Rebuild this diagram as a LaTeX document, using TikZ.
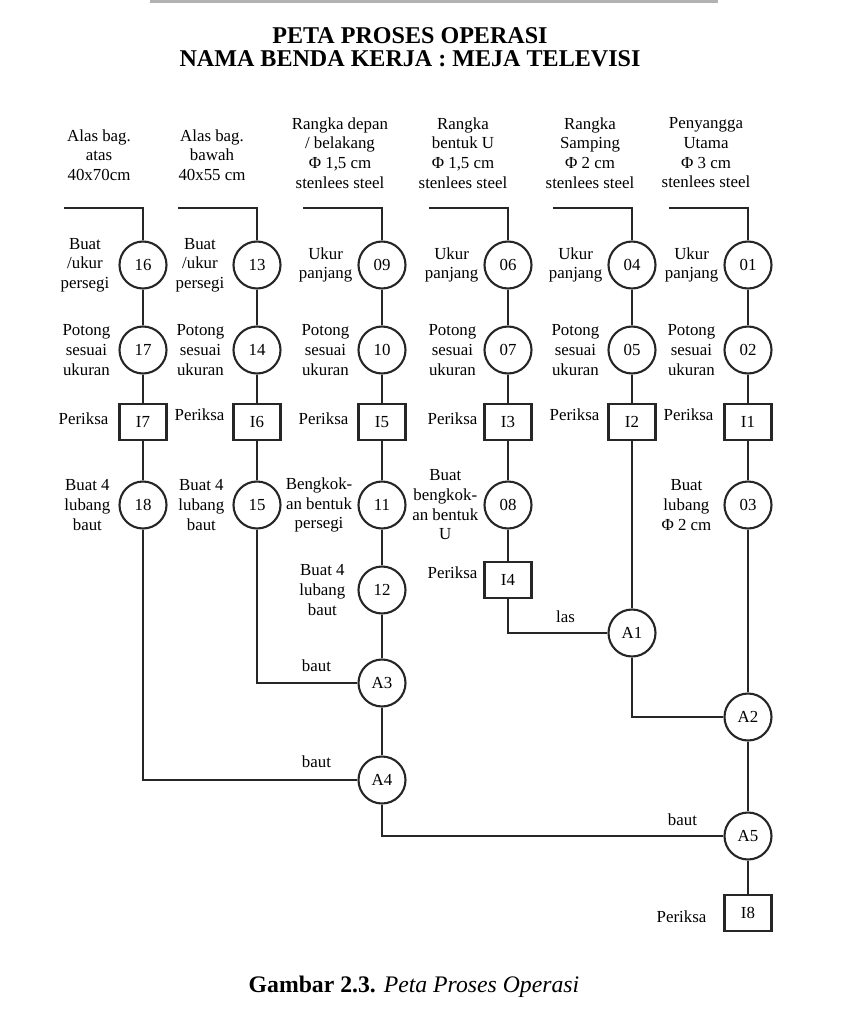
\documentclass[tikz,border=0pt]{standalone}
\usepackage{fontspec}
\setmainfont{Liberation Serif}
\usepackage{tikz}
\usetikzlibrary{calc,positioning}

\newcommand{\lblfont}{\fontsize{9.6}{11.2}\selectfont}
\newcommand{\ttlfont}{\fontsize{13.7}{13.2}\selectfont\bfseries}

\begin{document}
\begin{tikzpicture}[
    proc/.style={circle, draw=black!85, line width=1.2pt, minimum size=0.94cm,
      inner sep=0pt, font=\lblfont},
    insp/.style={rectangle, draw=black!85, line width=1.2pt, minimum width=0.94cm,
      minimum height=0.72cm, inner sep=0pt, font=\lblfont},
    lbl/.style={align=center, font=\lblfont, inner sep=1pt},
    flow/.style={draw=black!85, line width=1pt},
  ]
  \useasboundingbox (0,0) rectangle (16.92,-20.46);

  % scan edge
  \draw[black!30, line width=2pt] (3.0,-0.03) -- (14.36,-0.03);

  % Title
  \node[align=center, font=\ttlfont] (title) at (8.2,-0.94)
    {PETA PROSES OPERASI\\NAMA BENDA KERJA : MEJA TELEVISI};

  % Materials
  \node[lbl] (h1) at (1.98,-3.1) {Alas bag.\\atas\\40x70cm};
  \node[lbl] (h2) at (4.24,-3.1) {Alas bag.\\bawah\\40x55 cm};
  \node[lbl] (h3) at (6.8,-3.06) {Rangka depan\\/ belakang\\Φ 1,5 cm\\stenlees steel};
  \node[lbl] (h4) at (9.26,-3.06) {Rangka\\bentuk U\\Φ 1,5 cm\\stenlees steel};
  \node[lbl] (h5) at (11.8,-3.06) {Rangka\\Samping\\Φ 2 cm\\stenlees steel};
  \node[lbl] (h6) at (14.12,-3.06) {Penyangga\\Utama\\Φ 3 cm\\stenlees steel};

  % Column 1: alas bag. atas
  \node[proc] (p16) at (2.86,-5.3) {16};
  \node[proc] (p17) at (2.86,-7.0) {17};
  \node[insp] (i7) at (2.86,-8.44) {I7};
  \node[proc] (p18) at (2.86,-10.1) {18};

  % Column 2: alas bag. bawah
  \node[proc] (p13) at (5.14,-5.3) {13};
  \node[proc] (p14) at (5.14,-7.0) {14};
  \node[insp] (i6) at (5.14,-8.44) {I6};
  \node[proc] (p15) at (5.14,-10.1) {15};

  % Column 3: rangka depan / belakang
  \node[proc] (p09) at (7.64,-5.3) {09};
  \node[proc] (p10) at (7.64,-7.0) {10};
  \node[insp] (i5) at (7.64,-8.44) {I5};
  \node[proc] (p11) at (7.64,-10.1) {11};
  \node[proc] (p12) at (7.64,-11.8) {12};
  \node[proc] (a3) at (7.64,-13.66) {A3};
  \node[proc] (a4) at (7.64,-15.6) {A4};

  % Column 4: rangka bentuk U
  \node[proc] (p06) at (10.16,-5.3) {06};
  \node[proc] (p07) at (10.16,-7.0) {07};
  \node[insp] (i3) at (10.16,-8.44) {I3};
  \node[proc] (p08) at (10.16,-10.1) {08};
  \node[insp] (i4) at (10.16,-11.6) {I4};

  % Column 5: rangka samping
  \node[proc] (p04) at (12.64,-5.3) {04};
  \node[proc] (p05) at (12.64,-7.0) {05};
  \node[insp] (i2) at (12.64,-8.44) {I2};
  \node[proc] (a1) at (12.64,-12.66) {A1};

  % Column 6: penyangga utama
  \node[proc] (p01) at (14.96,-5.3) {01};
  \node[proc] (p02) at (14.96,-7.0) {02};
  \node[insp] (i1) at (14.96,-8.44) {I1};
  \node[proc] (p03) at (14.96,-10.1) {03};
  \node[proc] (a2) at (14.96,-14.34) {A2};
  \node[proc] (a5) at (14.96,-16.72) {A5};
  \node[insp] (i8) at (14.96,-18.26) {I8};

  % Operation labels
  \node[lbl, left=0.14cm of p16] {Buat\\/ukur\\persegi};
  \node[lbl, left=0.12cm of p17] {Potong\\sesuai\\ukuran};
  \node[lbl, left=0.16cm of i7, yshift=2pt] {Periksa};
  \node[lbl, left=0.12cm of p18] {Buat 4\\lubang\\baut};
  \node[lbl, left=0.12cm of p13] {Buat\\/ukur\\persegi};
  \node[lbl, left=0.12cm of p14] {Potong\\sesuai\\ukuran};
  \node[lbl, left=0.12cm of i6, yshift=4pt] {Periksa};
  \node[lbl, left=0.12cm of p15] {Buat 4\\lubang\\baut};
  \node[lbl, left=0.06cm of p09] {Ukur\\panjang};
  \node[lbl, left=0.12cm of p10] {Potong\\sesuai\\ukuran};
  \node[lbl, left=0.14cm of i5, yshift=2pt] {Periksa};
  \node[lbl, left=0.06cm of p11] {Bengkok-\\an bentuk\\persegi};
  \node[lbl, left=0.2cm of p12] {Buat 4\\lubang\\baut};
  \node[lbl, left=0.06cm of p06] {Ukur\\panjang};
  \node[lbl, left=0.1cm of p07] {Potong\\sesuai\\ukuran};
  \node[lbl, left=0.08cm of i3, yshift=2pt] {Periksa};
  \node[lbl, left=0.06cm of p08] {Buat\\bengkok-\\an bentuk\\U};
  \node[lbl, left=0.08cm of i4, yshift=4pt] {Periksa};
  \node[lbl, left=0.06cm of p04] {Ukur\\panjang};
  \node[lbl, left=0.12cm of p05] {Potong\\sesuai\\ukuran};
  \node[lbl, left=0.12cm of i2, yshift=4pt] {Periksa};
  \node[lbl, left=0.06cm of p01] {Ukur\\panjang};
  \node[lbl, left=0.12cm of p02] {Potong\\sesuai\\ukuran};
  \node[lbl, left=0.16cm of i1, yshift=4pt] {Periksa};
  \node[lbl, left=0.2cm of p03] {Buat\\lubang\\Φ 2 cm};
  \node[lbl, left=0.3cm of i8, yshift=-2pt] {Periksa};

  % Incoming material lines
  \coordinate (top) at (0,-4.16);
  \foreach \c in {p16,p13,p09,p06,p04,p01} {
    \coordinate (s\c) at ($(\c |- top)+(-1.58,0)$);
    \draw[flow] (s\c) -- (\c |- top) -- (\c);
  }

  % Flow lines
  \draw[flow] (p16) -- (p17) -- (i7) -- (p18);
  \draw[flow] (p13) -- (p14) -- (i6) -- (p15);
  \draw[flow] (p09) -- (p10) -- (i5) -- (p11) -- (p12) -- (a3) -- (a4);
  \draw[flow] (p06) -- (p07) -- (i3) -- (p08) -- (i4);
  \draw[flow] (p04) -- (p05) -- (i2) -- (a1);
  \draw[flow] (p01) -- (p02) -- (i1) -- (p03) -- (a2) -- (a5) -- (i8);
  \draw[flow] (p15) |- (a3);
  \draw[flow] (p18) |- (a4);
  \draw[flow] (i4) |- (a1);
  \draw[flow] (a1) |- (a2);
  \draw[flow] (a4) |- (a5);

  % Joining labels
  \node[lbl] (las) at ($(a1.west)+(-0.84,0.32)$) {las};
  \node[lbl] (baut3) at ($(a3.west)+(-0.82,0.34)$) {baut};
  \node[lbl] (baut4) at ($(a4.west)+(-0.82,0.36)$) {baut};
  \node[lbl] (baut5) at ($(a5.west)+(-0.82,0.32)$) {baut};

  % Caption
  \node[font=\fontsize{13.5}{15}\selectfont] (caption) at (8.28,-19.74)
    {\textbf{Gambar 2.3.} \textit{Peta Proses Operasi}};
\end{tikzpicture}
\end{document}
